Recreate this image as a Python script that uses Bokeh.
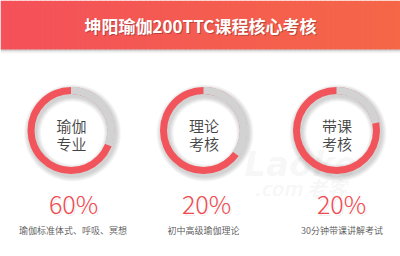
import numpy as np
from bokeh.plotting import figure
from bokeh.models import Range1d, ColumnDataSource
from bokeh.core.properties import value
from bokeh.embed import file_html
from bokeh.resources import INLINE

# ---- data ----
title = "坤阳瑜伽200TTC课程核心考核"
ring_line1 = ["瑜伽", "理论", "带课"]
ring_line2 = ["专业", "考核", "考核"]
percent_labels = ["60%", "20%", "20%"]
descriptions = ["瑜伽标准体式、呼吸、冥想", "初中高级瑜伽理论", "30分钟带课讲解考试"]
ring_fill = [0.69, 0.65, 0.78]   # red share of each ring as drawn

# ---- layout (pixel coordinates, y down) ----
W, H = 400, 256
ring_cx = [70.5, 203.0, 336.0]
ring_cy = 130.0
pct_x = [73.0, 206.0, 341.0]
desc_x = [72.5, 203.0, 341.5]
R_OUT, R_IN = 43.5, 36.5
RED = "#F1555B"
GRAY = "#D2D2D2"
FONT = "Noto Sans CJK SC"
FONT_LIGHT = "Noto Sans CJK SC Light"
FONT_DL = "Noto Sans CJK SC DemiLight"

def Y(v):
    return H - np.asarray(v, dtype=float)

p = figure(width=W, height=H, x_range=Range1d(0, W), y_range=Range1d(0, H),
           output_backend="svg", toolbar_location=None, min_border=0)
p.axis.visible = False
p.grid.visible = False
p.outline_line_color = None
p.background_fill_color = "white"
p.border_fill_color = "white"

# header gradient
n = 80
xs = np.linspace(0, W, n + 1)
c0 = np.array([244, 81, 90])
c1 = np.array([246, 103, 72])
cols = []
for i in range(n):
    t = i / (n - 1)
    c = (c0 * (1 - t) + c1 * t).astype(int)
    cols.append("#%02x%02x%02x" % tuple(c))
p.quad(left=xs[:-1], right=xs[1:] + 0.5, top=H, bottom=Y(49), fill_color=cols, line_color=None)
# header shadow
for k, a in enumerate([0.22, 0.12, 0.06, 0.03]):
    p.quad(left=[0], right=[W], top=Y(49 + k), bottom=Y(50 + k), fill_color="black",
           fill_alpha=a, line_color=None)

# title with shadow
p.text(x=[W / 2 + 1], y=Y([25.5]), text=[title], text_align="center", text_baseline="middle",
       text_font=value(FONT), text_font_style="bold", text_font_size="17px",
       text_color="black", text_alpha=0.25)
p.text(x=[W / 2], y=Y([24.5]), text=[title], text_align="center", text_baseline="middle",
       text_font=value(FONT), text_font_style="bold", text_font_size="17px",
       text_color="white")

# watermark
p.text(x=[300], y=Y([163]), text=["Laoke"], text_align="center", text_baseline="middle",
       text_font=value("DejaVu Sans"), text_font_style="bold italic", text_font_size="34px",
       text_color="black", text_alpha=0.05)
p.text(x=[300], y=Y([187]), text=[".com 老客"], text_align="center", text_baseline="middle",
       text_font=value(FONT), text_font_style="bold italic", text_font_size="20px",
       text_color="black", text_alpha=0.05)

# ring shadows
cy = float(Y(ring_cy))
for k in range(5):
    p.annulus(x=[c + 1.5 for c in ring_cx], y=[cy - 2.5] * 3,
              inner_radius=R_IN - 1 - k, outer_radius=R_OUT + 1 + k,
              fill_color="black", fill_alpha=0.035, line_color=None)

# rings: full red ring, gray remainder on top (clockwise from 12 o'clock)
fill = np.array(ring_fill)
top = np.pi / 2
src = ColumnDataSource(dict(x=ring_cx, y=[cy] * 3,
                            gray_start=list(top - (1 - fill) * 2 * np.pi),
                            gray_end=[top] * 3))
p.annulus(x="x", y="y", inner_radius=R_IN, outer_radius=R_OUT,
          fill_color=RED, line_color=None, source=src)
p.annular_wedge(x="x", y="y", inner_radius=R_IN - 0.3, outer_radius=R_OUT + 0.3,
                start_angle="gray_start", end_angle="gray_end", direction="anticlock",
                fill_color=GRAY, line_color=None, source=src)

# ring texts
p.text(x=[c + 0.5 for c in ring_cx], y=Y([125] * 3), text=ring_line1, text_align="center",
       text_baseline="middle", text_font=value(FONT_DL), text_font_size="15px", text_color="#444444")
p.text(x=[c + 0.5 for c in ring_cx], y=Y([143] * 3), text=ring_line2, text_align="center",
       text_baseline="middle", text_font=value(FONT_DL), text_font_size="15px", text_color="#444444")

# percentages with soft shadow
p.text(x=[x + 1.5 for x in pct_x], y=Y([204] * 3), text=percent_labels, text_align="center",
       text_baseline="middle", text_font=value(FONT_LIGHT), text_font_size="25px",
       text_color="black", text_alpha=0.08)
p.text(x=pct_x, y=Y([202] * 3), text=percent_labels, text_align="center",
       text_baseline="middle", text_font=value(FONT_LIGHT), text_font_size="25px", text_color="#EF4A50")

# descriptions
p.text(x=desc_x, y=Y([230] * 3), text=descriptions, text_align="center",
       text_baseline="middle", text_font=value(FONT_DL), text_font_size="9px", text_color="#555555")

open("out.html", "w").write(file_html(p, INLINE))
